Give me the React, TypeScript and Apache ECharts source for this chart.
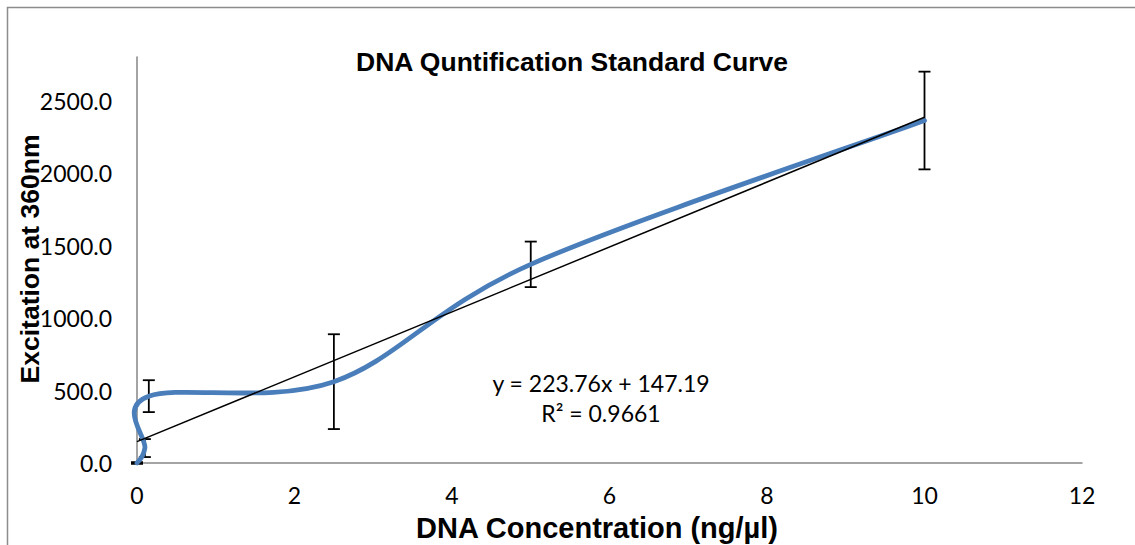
import React, { useEffect, useRef } from "react";
import * as echarts from "echarts";

// Data
const concentrations = [0, 0.1, 0.15, 2.5, 5, 10];
const excitation = [0, 103, 461, 561, 1370, 2362];
const errors = [6, 62, 110, 327, 157, 337];
const trendSlope = 223.76;
const trendIntercept = 147.19;
const trendRange = [0, 10];
const equationLines = ["y = 223.76x + 147.19", "R² = 0.9661"];
const chartTitle = "DNA Quntification Standard Curve";
const xAxisTitle = "DNA Concentration (ng/µl)";
const yAxisTitle = "Excitation at 360nm";

const LABEL_FONT = "Lato";
const TITLE_FONT = "Liberation Sans";

export default function App() {
  const ref = useRef<HTMLDivElement>(null);
  useEffect(() => {
    if (!ref.current) return;
    const chart = echarts.init(ref.current, null, { renderer: "svg" });
    const lineData = concentrations.map((x, i) => [x, excitation[i]]);
    const errData = concentrations.map((x, i) => [x, excitation[i], errors[i]]);
    const trendData = trendRange.map((x) => [x, trendSlope * x + trendIntercept]);

    // Excel-style smoothed line (Bezier, tension 1/6) in pixel space
    const renderSmooth = (params: any, api: any) => {
      if (params.dataIndex !== 0) return null;
      const p = lineData.map((d) => api.coord(d));
      const n = p.length;
      let d = `M${p[0][0]},${p[0][1]}`;
      for (let i = 0; i < n - 1; i++) {
        const p0 = p[Math.max(i - 1, 0)];
        const p1 = p[i];
        const p2 = p[i + 1];
        const p3 = p[Math.min(i + 2, n - 1)];
        const c1x = p1[0] + (p2[0] - p0[0]) / 6;
        const c1y = p1[1] + (p2[1] - p0[1]) / 6;
        const c2x = p2[0] - (p3[0] - p1[0]) / 6;
        const c2y = p2[1] - (p3[1] - p1[1]) / 6;
        d += ` C${c1x},${c1y} ${c2x},${c2y} ${p2[0]},${p2[1]}`;
      }
      return {
        type: "path",
        shape: { pathData: d },
        style: {
          fill: "none",
          stroke: "#4A7EBB",
          lineWidth: 4.8,
          lineJoin: "round",
          lineCap: "round",
        },
      };
    };

    chart.setOption({
      animation: false,
      backgroundColor: "#ffffff",
      grid: { left: 137, right: 53, top: 57, bottom: 82 },
      xAxis: {
        type: "value",
        min: 0,
        max: 12,
        interval: 2,
        axisLine: { show: true, lineStyle: { color: "#868686", width: 1.5 } },
        axisTick: { show: false },
        splitLine: { show: false },
        axisLabel: {
          color: "#000",
          fontFamily: LABEL_FONT,
          fontSize: 23,
          margin: 20,
        },
      },
      yAxis: {
        type: "value",
        min: 0,
        max: 2800,
        interval: 500,
        axisLine: { show: true, lineStyle: { color: "#868686", width: 1.5 } },
        axisTick: { show: false },
        splitLine: { show: false },
        axisLabel: {
          color: "#000",
          fontFamily: LABEL_FONT,
          fontSize: 23,
          margin: 25,
          showMaxLabel: false,
          formatter: (v: number) => (v % 500 === 0 ? v.toFixed(1) : ""),
        },
      },
      series: [
        {
          type: "custom",
          z: 1,
          renderItem: (params: any, api: any) => {
            const x = api.value(0);
            const y = api.value(1);
            const e = api.value(2);
            const top = api.coord([x, y + e]);
            const bot = api.coord([x, y - e]);
            const hw = 6;
            const style = { stroke: "#000", lineWidth: 1.8 };
            return {
              type: "group",
              children: [
                { type: "line", shape: { x1: top[0], y1: top[1], x2: bot[0], y2: bot[1] }, style },
                { type: "line", shape: { x1: top[0] - hw, y1: top[1], x2: top[0] + hw, y2: top[1] }, style },
                { type: "line", shape: { x1: bot[0] - hw, y1: bot[1], x2: bot[0] + hw, y2: bot[1] }, style },
              ],
            };
          },
          encode: { x: 0, y: 1 },
          data: errData,
          clip: false,
        },
        {
          type: "custom",
          z: 2,
          renderItem: renderSmooth,
          encode: { x: 0, y: 1 },
          data: lineData,
          clip: false,
        },
        {
          type: "line",
          z: 3,
          data: trendData,
          showSymbol: false,
          symbol: "none",
          lineStyle: { color: "#000", width: 1.5 },
        },
      ],
      graphic: [
        {
          type: "rect",
          silent: true,
          shape: { x: 7.5, y: 7.5, width: 1300, height: 800 },
          style: { fill: "none", stroke: "#8c8c8c", lineWidth: 1.5 },
        },
        {
          type: "text",
          x: 572,
          y: 62,
          style: {
            text: chartTitle,
            font: `bold 26.5px "${TITLE_FONT}"`,
            fill: "#000",
            align: "center",
            verticalAlign: "middle",
          },
        },
        {
          type: "text",
          x: 30,
          y: 259,
          rotation: Math.PI / 2,
          style: {
            text: yAxisTitle,
            font: `bold 26.5px "${TITLE_FONT}"`,
            fill: "#000",
            align: "center",
            verticalAlign: "middle",
          },
        },
        {
          type: "text",
          x: 597,
          y: 528,
          style: {
            text: xAxisTitle,
            font: `bold 29px "${TITLE_FONT}"`,
            fill: "#000",
            align: "center",
            verticalAlign: "middle",
          },
        },
        {
          type: "text",
          x: 601,
          y: 383,
          style: {
            text: equationLines[0],
            font: `23px "${LABEL_FONT}"`,
            fill: "#000",
            align: "center",
            verticalAlign: "middle",
          },
        },
        {
          type: "text",
          x: 601,
          y: 413,
          style: {
            text: equationLines[1],
            font: `23px "${LABEL_FONT}"`,
            fill: "#000",
            align: "center",
            verticalAlign: "middle",
          },
        },
      ],
    });
    return () => chart.dispose();
  }, []);
  return (
    <div
      ref={ref}
      style={{ position: "fixed", left: 0, top: 0, width: 1135, height: 545 }}
    />
  );
}
